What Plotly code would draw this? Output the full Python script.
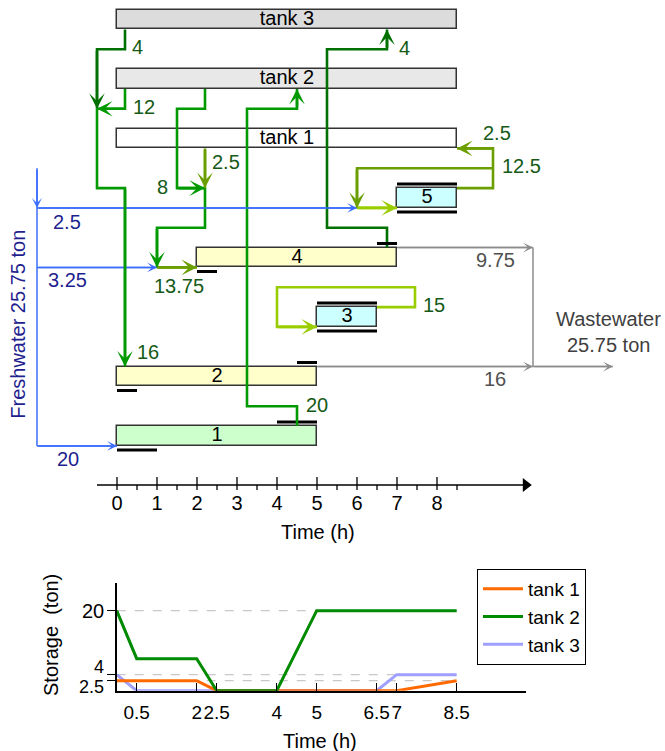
import plotly.graph_objects as go

# ---------------- data ----------------
tank_names = ["tank 3", "tank 2", "tank 1"]
tank_rows = [0, 1, 2]
tank_start = [0, 0, 0]
tank_end = [8.5, 8.5, 8.5]

unit_names = ["5", "4", "3", "2", "1"]
unit_rows = [3, 4, 5, 6, 7]
unit_start = [7, 2, 5, 0, 0]
unit_end = [8.5, 7, 6.5, 5, 5]

# filling period (drawn below, at start) and emptying period (drawn above, at end)
fill_start = [7, 2, 5, 0, 0]
fill_end = [8.5, 2.5, 6.5, 0.5, 1]
empty_start = [7, 6.5, 5, 4.5, 4]
empty_end = [8.5, 7, 6.5, 5, 5]

# water flows (ton)
flow_labels = ["4", "12", "16", "8", "2.5", "13.75", "20", "4", "2.5", "12.5", "15"]
fresh_labels = ["2.5", "3.25", "20"]
waste_labels = ["9.75", "16"]
fresh_total = "Freshwater 25.75 ton"
waste_total = ["Wastewater", "25.75 ton"]

time_major = [0, 1, 2, 3, 4, 5, 6, 7, 8]
time_minor = [0.5, 1.5, 2.5, 3.5, 4.5, 5.5, 6.5, 7.5, 8.5]

# storage profile
tank1_t = [0, 2, 2.5, 7, 8.5]
tank1_s = [2.5, 2.5, 0, 0, 2.5]
tank2_t = [0, 0.5, 2, 2.5, 4, 5, 8.5]
tank2_s = [20, 8, 8, 0, 0, 20, 20]
tank3_t = [0, 0.5, 6.5, 7, 8.5]
tank3_s = [4, 0, 0, 4, 4]
storage_ticks = [2.5, 4, 20]
storage_xticks = [0.5, 2, 2.5, 4, 5, 6.5, 7, 8.5]

# ---------------- styles / layout geometry ----------------
W, H = 665, 751
FONT = "Liberation Sans, Arial, sans-serif"
FS = 20
PX_T0, PX_PER_H = 117.0, 40.0          # time scale (pixels)
PX_R0, PX_PER_ROW = 19.5, 59.5         # row scale (pixels)
TOP_BOTTOM_PX = 560
h = 1 / 6                              # half bar height (rows)
off = 0.235                            # offset of period markers
C_DARK = "#007000"
C_MED = "#009a00"
C_OLIVE = "#6b9e00"
C_LIME = "#9acd00"
C_BLUE = "#3a6cff"
C_NAVY = "#1f1f8f"
C_GRAY = "#8c8c8c"
C_LBL = "#155a15"

fig = go.Figure()


def line(pts, color, width=2.6, dash=None):
    fig.add_trace(go.Scatter(x=[p[0] for p in pts], y=[p[1] for p in pts], mode="lines",
                             line=dict(color=color, width=width, dash=dash),
                             hoverinfo="skip", showlegend=False, xaxis="x", yaxis="y"))


def arrow(pts, color, width=2.6, size=1.0):
    line(pts, color, width)
    p0, p1 = pts[-2], pts[-1]
    fig.add_annotation(x=p1[0], y=p1[1], ax=p0[0], ay=p0[1], xref="x", yref="y",
                       axref="x", ayref="y", showarrow=True, arrowhead=3,
                       arrowsize=size, arrowwidth=width, arrowcolor=color, text="",
                       standoff=0)


def label(t, r, txt, color, anchor="left", size=FS):
    fig.add_annotation(x=t, y=r, xref="x", yref="y", text=txt, showarrow=False,
                       xanchor=anchor, yanchor="middle",
                       font=dict(family=FONT, size=size, color=color))


# bars: tanks
tank_fill = ["#dcdcdc", "#e8e8e8", "#ffffff"]
fig.add_trace(go.Bar(y=tank_rows, x=[e - s for s, e in zip(tank_start, tank_end)], base=tank_start,
                     orientation="h", width=2 * h,
                     marker=dict(color=tank_fill, line=dict(color="#333333", width=1.5)),
                     hoverinfo="skip", showlegend=False, xaxis="x", yaxis="y"))
unit_fill = ["#ccffff", "#ffffcc", "#ccffff", "#ffffcc", "#ccffcc"]
fig.add_trace(go.Bar(y=unit_rows, x=[e - s for s, e in zip(unit_start, unit_end)], base=unit_start,
                     orientation="h", width=2 * h,
                     marker=dict(color=unit_fill, line=dict(color="#333333", width=1.5)),
                     hoverinfo="skip", showlegend=False, xaxis="x", yaxis="y"))

# period markers
for r, s, e in zip(unit_rows, fill_start, fill_end):
    line([(s, r + off), (e, r + off)], "black", 3)
for r, s, e in zip(unit_rows, empty_start, empty_end):
    line([(s, r - off), (e, r - off)], "black", 3)

# freshwater (blue)
fresh_x = -2.0
arrow([(fresh_x, 2.5), (fresh_x, 3 + h)], C_BLUE, 1.5, 1.1)
line([(fresh_x, 3 + h), (fresh_x, 7 + h)], C_BLUE, 1.5)
arrow([(fresh_x, 3 + h), (6.0, 3 + h)], C_BLUE, 1.5, 1.1)
arrow([(fresh_x, 4 + h), (1.0, 4 + h)], C_BLUE, 1.5, 1.1)
arrow([(fresh_x, 7 + h), (0.0, 7 + h)], C_BLUE, 1.5, 1.1)

# wastewater (gray)
waste_x = 10.4
arrow([(7, 4 - h), (waste_x, 4 - h)], C_GRAY, 1.5, 1.1)
arrow([(5, 6 - h), (waste_x, 6 - h)], C_GRAY, 1.5, 1.1)
line([(waste_x, 4 - h), (waste_x, 6 - h)], C_GRAY, 1.5)
arrow([(waste_x, 6 - h), (12.4, 6 - h)], C_GRAY, 1.5, 1.1)

# reuse flows
arrow([(0.2, 0 + h), (0.2, 0.5), (-0.5, 0.5), (-0.5, 1.5)], C_DARK)
arrow([(0.2, 1 + h), (0.2, 1.5), (-0.5, 1.5)], C_MED)
arrow([(-0.5, 1.5), (-0.5, 3 - h), (0.2, 3 - h), (0.2, 6 - h)], C_MED)
arrow([(2.2, 1 + h), (2.2, 1.5), (1.5, 1.5), (1.5, 3 - h), (2.2, 3 - h)], C_MED)
arrow([(2.2, 2 + h), (2.2, 3 - h)], C_OLIVE)
arrow([(2.2, 3 - h), (2.2, 3.5), (1.0, 3.5), (1.0, 4 + h)], C_MED)
arrow([(1.0, 4 + h), (2.0, 4 + h)], C_OLIVE)
arrow([(4.5, 7 - h), (4.5, 6.5), (3.25, 6.5), (3.25, 1.5), (4.5, 1.5), (4.5, 1 + h)], C_MED)
arrow([(6.75, 4 - h), (6.75, 3.5), (5.25, 3.5), (5.25, 0.5), (6.75, 0.5), (6.75, 0 + h)], C_DARK)
arrow([(8.5, 3 - h), (9.4, 3 - h), (9.4, 2 + h), (8.5, 2 + h)], C_OLIVE)
arrow([(9.4, 2.5), (6.0, 2.5), (6.0, 3 + h)], C_OLIVE)
arrow([(6.0, 3 + h), (7.0, 3 + h)], C_LIME)
arrow([(6.5, 5 - h), (7.45, 5 - h), (7.45, 4.5), (4.0, 4.5), (4.0, 5 + h), (5.0, 5 + h)], C_LIME)

# period marker of unit 4 drawn again on top of the crossing flow
line([(empty_start[1], 4 - off), (empty_end[1], 4 - off)], "black", 3)

# bar texts
fig.add_trace(go.Scatter(x=[(s + e) / 2 for s, e in zip(tank_start, tank_end)], y=tank_rows,
                         text=tank_names, mode="text", textfont=dict(family=FONT, size=FS, color="black"),
                         hoverinfo="skip", showlegend=False, xaxis="x", yaxis="y"))
fig.add_trace(go.Scatter(x=[(s + e) / 2 for s, e in zip(unit_start, unit_end)], y=unit_rows,
                         text=unit_names, mode="text", textfont=dict(family=FONT, size=FS, color="black"),
                         hoverinfo="skip", showlegend=False, xaxis="x", yaxis="y"))

# flow labels
lbl_pos = [(0.33, 0.47, "left"), (0.34, 1.47, "left"), (0.45, 5.58, "left"), (1.33, 2.82, "right"),
           (2.33, 2.39, "left"), (1.54, 4.48, "center"), (4.68, 6.48, "left"), (7.0, 0.48, "left"),
           (9.1, 1.9, "left"), (9.58, 2.47, "left"), (7.6, 4.8, "left")]
for (t, r, a), txt in zip(lbl_pos, flow_labels):
    label(t, r, txt, C_LBL, a)
for (t, r), txt in zip([(-1.24, 3.4), (-1.23, 4.38), (-1.22, 7.39)], fresh_labels):
    label(t, r, txt, C_NAVY, "center")
for (t, r), txt in zip([(9.46, 4.05), (9.45, 6.05)], waste_labels):
    label(t, r, txt, "#505050", "center")
label(12.28, 5.04, waste_total[0], "#404040", "center")
label(12.28, 5.47, waste_total[1], "#404040", "center")
fig.add_annotation(x=-2.475, y=5.13, xref="x", yref="y", text=fresh_total, showarrow=False,
                   textangle=-90, xanchor="center", yanchor="middle",
                   font=dict(family=FONT, size=FS, color=C_NAVY))

# top time axis
r_ax = (485 - PX_R0) / PX_PER_ROW
line([(-0.5, r_ax), (10.15, r_ax)], "black", 1.3)
fig.add_trace(go.Scatter(x=[10.22], y=[r_ax], mode="markers",
                         marker=dict(symbol="triangle-right", size=12, color="black"),
                         hoverinfo="skip", showlegend=False, xaxis="x", yaxis="y"))
mx, my = [], []
for t in time_major:
    mx += [t, t, None]
    my += [(477 - PX_R0) / PX_PER_ROW, (490 - PX_R0) / PX_PER_ROW, None]
for t in time_minor:
    mx += [t, t, None]
    my += [r_ax, (490 - PX_R0) / PX_PER_ROW, None]
line(list(zip(mx, my)), "black", 1.3)
fig.add_trace(go.Scatter(x=time_major, y=[(505 - PX_R0) / PX_PER_ROW] * len(time_major),
                         text=[str(t) for t in time_major], mode="text",
                         textfont=dict(family=FONT, size=FS, color="black"),
                         hoverinfo="skip", showlegend=False, xaxis="x", yaxis="y"))
label(5.03, (532 - PX_R0) / PX_PER_ROW, "Time (h)", "black", "center")

# ---------------- bottom chart ----------------
for lv in storage_ticks:
    fig.add_trace(go.Scatter(x=[0, 8.5], y=[lv, lv], mode="lines",
                             line=dict(color="#c8c8c8", width=1.2, dash="dash"),
                             hoverinfo="skip", showlegend=False, xaxis="x2", yaxis="y2"))
fig.add_trace(go.Scatter(x=tank3_t, y=tank3_s, mode="lines", name="tank 3", legendrank=3,
                         line=dict(color="#9f9fff", width=3), xaxis="x2", yaxis="y2"))
fig.add_trace(go.Scatter(x=tank1_t, y=tank1_s, mode="lines", name="tank 1", legendrank=1,
                         line=dict(color="#ff6a00", width=3), xaxis="x2", yaxis="y2"))
fig.add_trace(go.Scatter(x=tank2_t, y=tank2_s, mode="lines", name="tank 2", legendrank=2,
                         line=dict(color="#008a00", width=3), xaxis="x2", yaxis="y2"))

bx0, bx1 = 116.7, 526
by0, by1 = 690.7, 583
x2max = (bx1 - bx0) / PX_PER_H
y2max = (by0 - by1) / 4.0
fig.add_trace(go.Scatter(x=[x2max + 0.12], y=[0], mode="markers", cliponaxis=False,
                         marker=dict(symbol="triangle-right", size=12, color="black"),
                         hoverinfo="skip", showlegend=False, xaxis="x2", yaxis="y2"))
fig.add_trace(go.Scatter(x=[0], y=[y2max + 1.3], mode="markers", cliponaxis=False,
                         marker=dict(symbol="triangle-up", size=12, color="black"),
                         hoverinfo="skip", showlegend=False, xaxis="x2", yaxis="y2"))

for lv, dy, fs in zip(storage_ticks, [-6.3, 7.7, 0], [18, 18, 20]):
    fig.add_annotation(x=106 / W, y=lv, xref="paper", yref="y2", text=str(lv), showarrow=False,
                       xanchor="right", yanchor="middle", yshift=dy,
                       font=dict(family=FONT, size=fs, color="black"))
fig.add_annotation(x=51 / W, y=1 - 635 / H, xref="paper", yref="paper", text="Storage  (ton)",
                   showarrow=False, textangle=-90, xanchor="center", yanchor="middle",
                   font=dict(family=FONT, size=20, color="black"))
fig.add_annotation(x=320 / W, y=1 - 741 / H, xref="paper", yref="paper", text="Time (h)",
                   showarrow=False, xanchor="center", yanchor="middle",
                   font=dict(family=FONT, size=20, color="black"))

fig.update_layout(
    width=W, height=H, margin=dict(l=0, r=0, t=0, b=0),
    paper_bgcolor="white", plot_bgcolor="white",
    font=dict(family=FONT, size=FS, color="black"),
    barmode="overlay", bargap=0,
    xaxis=dict(domain=[0, 1], range=[-PX_T0 / PX_PER_H, (W - PX_T0) / PX_PER_H], visible=False,
               anchor="y"),
    yaxis=dict(domain=[1 - TOP_BOTTOM_PX / H, 1],
               range=[(TOP_BOTTOM_PX - PX_R0) / PX_PER_ROW, -PX_R0 / PX_PER_ROW],
               visible=False, anchor="x"),
    xaxis2=dict(domain=[bx0 / W, bx1 / W], range=[0, x2max], anchor="y2",
                showline=True, linecolor="black", linewidth=1.5, showgrid=False, zeroline=False,
                ticks="inside", ticklen=8, tickwidth=1.3, tickcolor="black",
                tickvals=storage_xticks, ticktext=[str(v) for v in storage_xticks],
                tickangle=0, tickfont=dict(family=FONT, size=19), ticklabelstandoff=4),
    yaxis2=dict(domain=[1 - by0 / H, 1 - by1 / H], range=[0, y2max], anchor="x2",
                showline=True, linecolor="black", linewidth=1.5, showgrid=False, zeroline=False,
                ticks="outside", ticklen=8, tickwidth=1.3, tickcolor="black",
                tickvals=storage_ticks, showticklabels=False),
    showlegend=True,
    legend=dict(x=477 / W, y=1 - 569 / H, xanchor="left", yanchor="top",
                bordercolor="black", borderwidth=1, bgcolor="white",
                font=dict(family=FONT, size=19), tracegroupgap=0, itemwidth=40,
                traceorder="normal"),
)

fig.write_html("out.html", config={"displayModeBar": False},
               post_script="document.body.style.margin='0px';document.body.style.overflow='hidden';")
